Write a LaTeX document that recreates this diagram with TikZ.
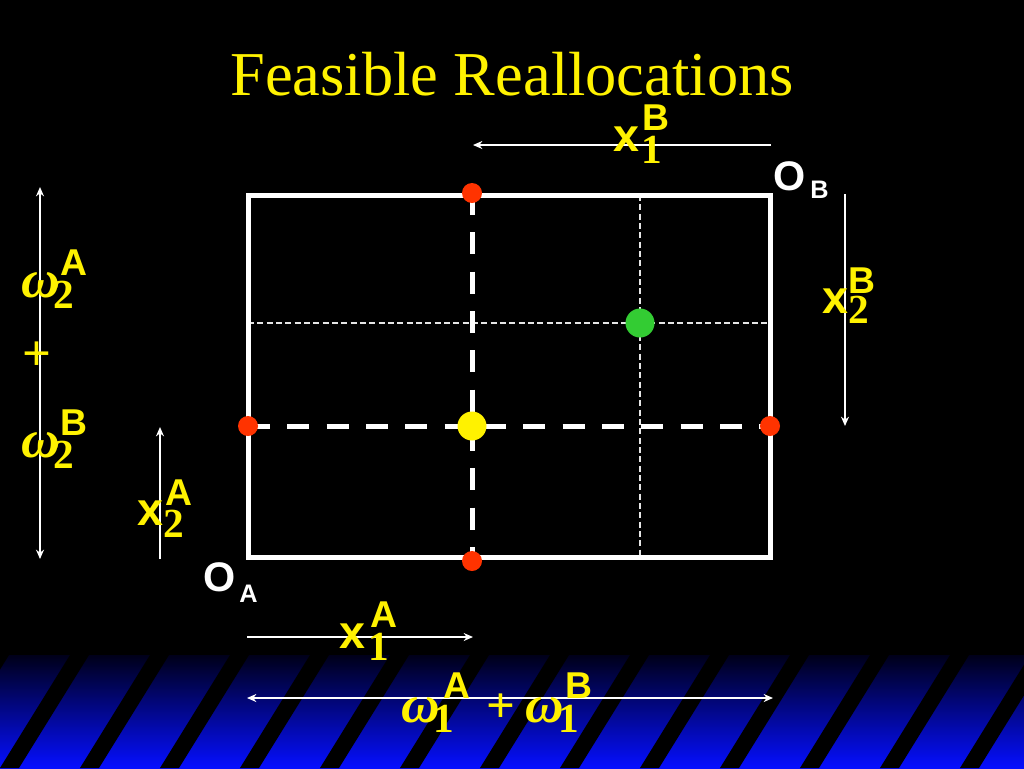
\documentclass[tikz,border=0pt]{standalone}
\usepackage{fontspec}
\setmainfont{Liberation Serif}
\newfontfamily\arialfont{Liberation Sans}
\usetikzlibrary{arrows.meta}

\begin{document}
\begin{tikzpicture}[x=0.75pt,y=0.75pt,yscale=-1,xscale=1,
  pt/.style={circle,inner sep=0pt,minimum size=#1},
  lbl/.style={anchor=base west,inner sep=0pt,text=yellow},
  xlet/.style={lbl,font=\arialfont\bfseries\fontsize{35}{40}\selectfont},
  suplet/.style={lbl,font=\arialfont\bfseries\fontsize{28}{32}\selectfont},
  subdig/.style={lbl,font=\bfseries\fontsize{31}{36}\selectfont},
  omg/.style={lbl,font=\bfseries\itshape\fontsize{40}{44}\selectfont},
  plus/.style={lbl,font=\bfseries\fontsize{38}{42}\selectfont},
  origin/.style={anchor=base west,inner sep=0pt,text=white,font=\arialfont\bfseries\fontsize{31}{36}\selectfont},
  originsub/.style={anchor=base west,inner sep=0pt,text=white,font=\arialfont\bfseries\fontsize{19}{22}\selectfont},
  arr/.style={white,line width=1.5pt,-{Stealth[length=7pt,width=6pt]}},
  darr/.style={white,line width=1.5pt,{Stealth[length=7pt,width=6pt]}-{Stealth[length=7pt,width=6pt]}},
  thick dash/.style={white,line width=3.75pt,dash pattern={on 16.5pt off 13pt}},
  thin dash/.style={white!90!black,line width=1.1pt,dash pattern={on 4.5pt off 2.5pt}}]
\useasboundingbox (0,0) rectangle (1024,768);
%background
\fill [black] (0,0) rectangle (1024,768);
\shade [top color={rgb,255:red,0;green,0;blue,25}, middle color={rgb,255:red,0;green,0;blue,190}, bottom color={rgb,255:red,5;green,15;blue,255}] (0,655) rectangle (1024,768);
\foreach \k in {-1,...,12}
  \fill [black] ({80*\k},768) -- ({80*\k+19},768) -- ({80*\k+89},655) -- ({80*\k+70},655) -- cycle;

%title
\node [anchor=base,inner sep=0pt,text=yellow,font=\fontsize{46.8}{52}\selectfont] (title) at (512,95) {Feasible Reallocations};

%box corners
\coordinate (OA) at (248,557);
\coordinate (OB) at (770,195);
\coordinate (TL) at (248,195);
\coordinate (BR) at (770,557);

%allocations
\node [pt=15pt] (top) at (472,193) {};
\node [pt=15pt] (bot) at (472,561) {};
\node [pt=15pt] (left) at (248,426) {};
\node [pt=15pt] (right) at (770,426) {};
\node [pt=21.5pt] (endow) at (472,426) {};
\node [pt=21.5pt] (alloc) at (640,323) {};

%Edgeworth box
\draw [thin dash] (alloc |- TL) -- (alloc |- OA);
\draw [thin dash] (TL |- alloc) -- (BR |- alloc);
\draw [white,line width=3.75pt] (TL) rectangle (BR);
\draw [thick dash] (top.center) -- (bot.center);
\draw [thick dash] (left.center) -- (right.center);
\fill [fill={rgb,255:red,255;green,51;blue,0}] (top) circle [radius=10];
\fill [fill={rgb,255:red,255;green,51;blue,0}] (bot) circle [radius=10];
\fill [fill={rgb,255:red,255;green,51;blue,0}] (left) circle [radius=10];
\fill [fill={rgb,255:red,255;green,51;blue,0}] (right) circle [radius=10];
\fill [yellow] (endow) circle [radius=14.5];
\fill [fill={rgb,255:red,51;green,204;blue,51}] (alloc) circle [radius=14.5];

%axis arrows
\coordinate (x1Bs) at (771,145);
\coordinate (x1Be) at (473,145);
\coordinate (x2Bs) at (845,194);
\coordinate (x2Be) at (845,426);
\coordinate (x2As) at (160,559);
\coordinate (x2Ae) at (160,427);
\coordinate (x1As) at (247,637);
\coordinate (x1Ae) at (473,637);
\coordinate (w2s) at (40,187);
\coordinate (w2e) at (40,559);
\coordinate (w1s) at (247,698);
\coordinate (w1e) at (773,698);
\draw [arr] (x1Bs) -- (x1Be);
\draw [arr] (x2Bs) -- (x2Be);
\draw [arr] (x2As) -- (x2Ae);
\draw [arr] (x1As) -- (x1Ae);
\draw [darr] (w2s) -- (w2e);
\draw [darr] (w1s) -- (w1e);

%origins
\node [origin] (oa) at (203,591) {O};
\node [originsub] (oasub) at (239,602) {A};
\node [origin] (ob) at (773,190) {O};
\node [originsub] (obsub) at (810,198) {B};

%labels
\node [xlet] (x1B) at (613,151) {x};
\node [suplet] (x1Bsup) at (642,130) {B};
\node [subdig] (x1Bsub) at (641,163) {1};
\node [xlet] (x2B) at (822,313) {x};
\node [suplet] (x2Bsup) at (848,293) {B};
\node [subdig] (x2Bsub) at (848,323) {2};
\node [xlet] (x2A) at (137,525) {x};
\node [suplet] (x2Asup) at (165,505) {A};
\node [subdig] (x2Asub) at (163,537) {2};
\node [xlet] (x1A) at (339,648) {x};
\node [suplet] (x1Asup) at (370,627) {A};
\node [subdig] (x1Asub) at (368,660) {1};

\node [omg] (w2A) at (21,297) {ω};
\node [suplet] (w2Asup) at (60,275) {A};
\node [subdig] (w2Asub) at (53,308) {2};
\node [plus] (w2plus) at (22,370) {+};
\node [omg] (w2B) at (21,457) {ω};
\node [suplet] (w2Bsup) at (60,435) {B};
\node [subdig] (w2Bsub) at (53,468) {2};

\node [omg] (w1A) at (401,722) {ω};
\node [suplet] (w1Asup) at (443,698) {A};
\node [subdig] (w1Asub) at (433,732) {1};
\node [plus] (w1plus) at (486,722) {+};
\node [omg] (w1B) at (525,722) {ω};
\node [suplet] (w1Bsup) at (565,698) {B};
\node [subdig] (w1Bsub) at (558,732) {1};
\end{tikzpicture}
\end{document}
